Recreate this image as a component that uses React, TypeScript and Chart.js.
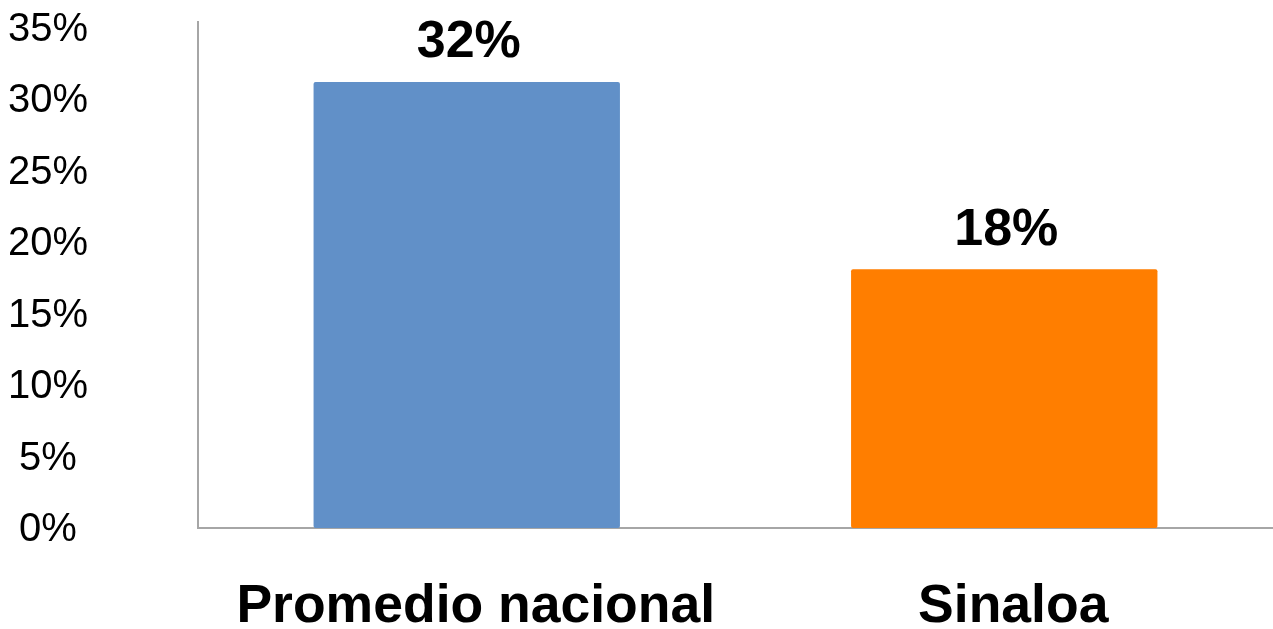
import React, { useEffect, useRef } from "react";
import { Chart, registerables } from "chart.js";

Chart.register(...registerables);

const categories = ["Promedio nacional", "Sinaloa"];
const values = [31.2, 18.1];
const valueLabels = ["32%", "18%"];
const barColors = ["#6190C8", "#FF7E00"];
const yTickStep = 5;
const yMax = 35.4;

const FONT = "'Liberation Sans', Arial, sans-serif";

const dataLabelPlugin = {
  id: "dataLabels",
  afterDatasetsDraw(chart: any) {
    const ctx = chart.ctx;
    const meta = chart.getDatasetMeta(0);
    ctx.save();
    ctx.font = `bold 52px ${FONT}`;
    ctx.fillStyle = "#000";
    ctx.textAlign = "center";
    ctx.textBaseline = "middle";
    meta.data.forEach((bar: any, i: number) => {
      ctx.fillText(valueLabels[i], bar.x + 2, bar.y - 39);
    });
    ctx.restore();
  },
};

export default function App() {
  const ref = useRef<HTMLCanvasElement | null>(null);
  useEffect(() => {
    if (!ref.current) return;
    const chart = new Chart(ref.current, {
      type: "bar",
      data: {
        labels: categories,
        datasets: [
          {
            data: values,
            backgroundColor: barColors,
            borderRadius: 2,
            borderSkipped: false,
            barPercentage: 0.57,
            categoryPercentage: 1,
          },
        ],
      },
      options: {
        animation: false,
        responsive: false,
        layout: { padding: { top: 22, right: 0, left: 0, bottom: 0 } },
        plugins: {
          legend: { display: false },
          tooltip: { enabled: false },
        },
        scales: {
          x: {
            grid: { display: false, drawTicks: false },
            border: { display: true, color: "#a6a6a6", width: 2 },
            ticks: {
              color: "#000",
              font: { family: FONT, size: 53.5, weight: "bold", lineHeight: 1.2 },
              padding: 47,
              labelOffset: 9,
              maxRotation: 0,
              autoSkip: false,
            },
            afterFit: (s: any) => {
              s.height = 101;
              s.paddingLeft = 0;
              s.paddingRight = 0;
            },
          },
          y: {
            min: 0,
            max: yMax,
            grid: { display: false, drawTicks: false },
            border: { display: true, color: "#a6a6a6", width: 2 },
            ticks: {
              stepSize: yTickStep,
              includeBounds: false,
              crossAlign: "center",
              padding: 110,
              labelOffset: 2,
              color: "#000",
              font: { family: FONT, size: 40, lineHeight: 1.2 },
              callback: (v: any) => `${v}%`,
            },
            afterFit: (s: any) => {
              s.width = 198;
              s.paddingTop = 0;
              s.paddingBottom = 0;
            },
          },
        },
      },
      plugins: [dataLabelPlugin],
    } as any);
    return () => chart.destroy();
  }, []);
  return (
    <div style={{ position: "fixed", left: 0, top: 0, width: 1273, height: 629, background: "#fff" }}>
      <canvas ref={ref} width={1273} height={629} style={{ display: "block" }} />
    </div>
  );
}
